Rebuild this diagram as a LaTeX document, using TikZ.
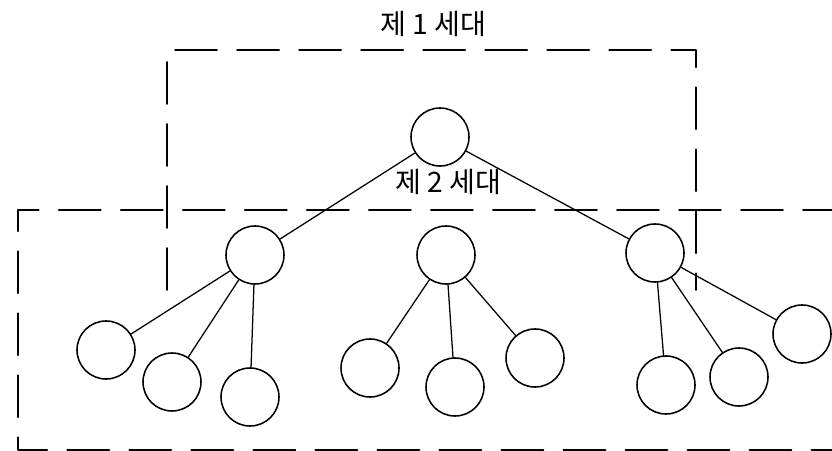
\documentclass[tikz,border=0pt]{standalone}
\usepackage{fontspec}
\newfontfamily\kofont{Noto Sans CJK KR}
\begin{document}
\begin{tikzpicture}[x=0.025cm, y=-0.025cm, line join=round, line cap=round,
  gen/.style={circle, draw, line width=1.1pt, minimum size=1.45cm, inner sep=0pt},
  box/.style={line width=1.2pt, dash pattern=on 1.05cm off 0.5cm},
  lbl/.style={font=\kofont\fontsize{20}{24}\selectfont}]
\def\W{832} \def\H{451} % Bildgroesse
\useasboundingbox (0,0) rectangle (\W,\H);
\clip (0,0) rectangle (\W,\H);
% Rahmen
\draw[box] (167,290)--(167,50)--(696,50)--(696,290);
\draw[box] (845,210)--(18,210)--(18,450)--(845,450);
\node[lbl] (t1) at (433,24) {제 1 세대};
\node[lbl] (t2) at (448,182) {제 2 세대};
% Knoten
\node[gen] (r) at (440,137) {};
\node[gen] (a) at (255,255) {};
\node[gen] (b) at (446,255) {};
\node[gen] (c) at (655,253) {};
\node[gen] (a1) at (106,350) {};
\node[gen] (a2) at (172,382) {};
\node[gen] (a3) at (250,397) {};
\node[gen] (b1) at (370,368) {};
\node[gen] (b2) at (455,387) {};
\node[gen] (b3) at (535,358) {};
\node[gen] (c1) at (666,385) {};
\node[gen] (c2) at (739,377) {};
\node[gen] (c3) at (802,334) {};
% Kanten
\draw[line width=0.9pt] (r)--(a) (r)--(c);
\foreach \p in {a,b,c}
  \foreach \k in {1,2,3}
    \draw[line width=0.9pt] (\p)--(\p\k);
\end{tikzpicture}
\end{document}
